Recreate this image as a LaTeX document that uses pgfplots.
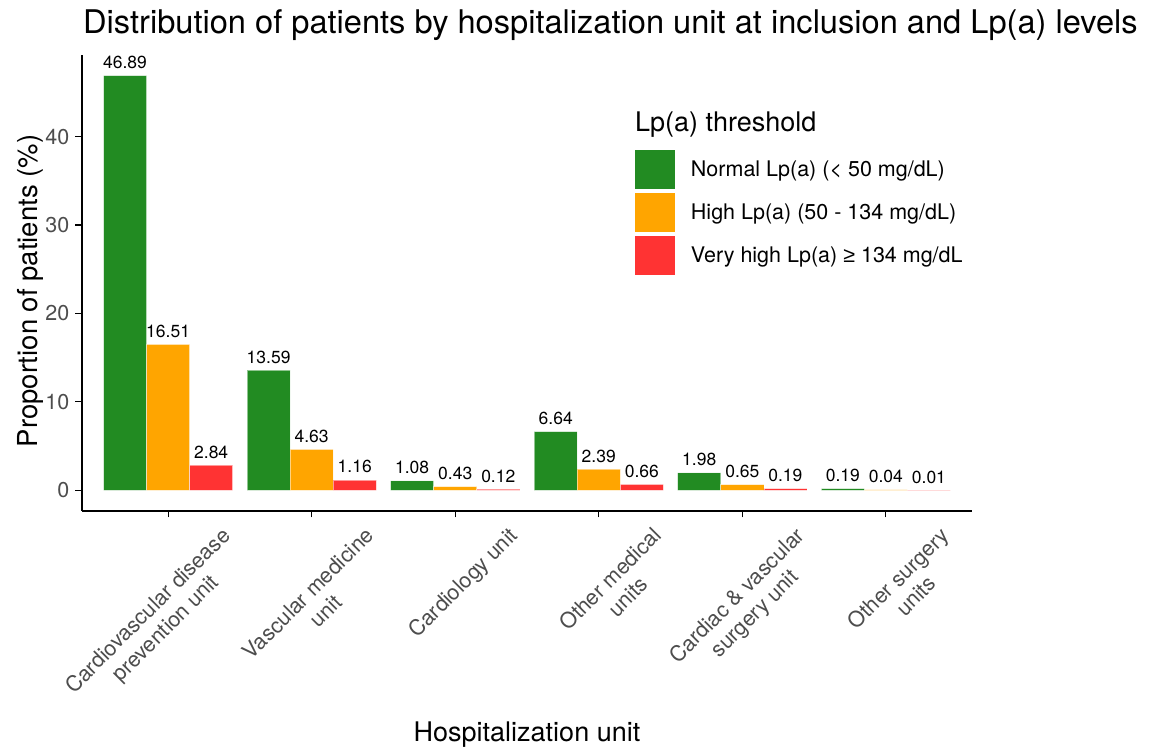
\documentclass[border=0pt]{standalone}
\usepackage{fontspec}
\setmainfont{TeX Gyre Heros}
\newfontfamily\symf{Liberation Sans}
\usepackage{graphicx}
\usepackage{pgfplots}
\pgfplotsset{compat=1.18}
\definecolor{cgreen}{HTML}{228B22}
\definecolor{corange}{HTML}{FFA500}
\definecolor{cred}{HTML}{FF3333}
\definecolor{tickgray}{HTML}{4D4D4D}
\newcommand{\rl}[2][0pt]{\hspace*{#1}\rotatebox{45}{\begin{tabular}{@{}c@{}}#2\end{tabular}}\hspace*{-#1}}
\begin{document}
\begin{tikzpicture}[x=1pt,y=1pt]
\useasboundingbox (0,0) rectangle (1149,751);
\begin{axis}[
  at={(82pt,240pt)}, anchor=south west,
  width=890pt, height=456pt, scale only axis,
  xmin=0.4, xmax=6.6, ymin=-2.34, ymax=49.23,
  axis x line=bottom, axis y line=left,
  axis line style={-, line width=1.3pt, black},
  tick align=outside, major tick length=6.5pt,
  tick style={line width=1.1pt, black},
  /pgf/number format/assume math mode=true,
  xtick={1,2,3,4,5,6},
  xticklabels={{\rl[-10pt]{Cardiovascular disease\\prevention unit}},
               {\rl[7pt]{Vascular medicine\\unit}},
               {\rl[9.5pt]{Cardiology unit}},
               {\rl[22pt]{Other medical\\units}},
               {\rl[5pt]{Cardiac \& vascular\\surgery unit}},
               {\rl[23pt]{Other surgery\\units}}},
  xticklabel style={font=\fontsize{21.5}{25}\selectfont, text=tickgray, anchor=north, inner sep=0pt, yshift=-7pt},
  ytick={0,10,20,30,40},
  yticklabel style={font=\fontsize{21.5}{25}\selectfont, text=tickgray, anchor=east, inner sep=0pt, xshift=-6pt},
  ybar, bar width=0.3,
  nodes near coords={\pgfmathprintnumber[fixed,fixed zerofill,precision=2]{\pgfplotspointmeta}},
  every node near coord/.append style={font=\fontsize{17.5}{20}\selectfont, text=black, inner sep=0pt, anchor=south, yshift=6.5pt},
  legend image code/.code={\path[#1, draw=none] (0pt,-19.5pt) rectangle (40pt,19.5pt);},
  legend cell align=left,
  legend style={at={(0.6213,0.7917)}, anchor=north west, draw=none, fill=none,
    inner sep=0pt, outer sep=0pt, row sep=4pt,
    font=\fontsize{21.5}{25}\selectfont,
    nodes={inner sep=0pt, outer sep=0pt},
    /tikz/every odd column/.append style={column sep=16pt}},
]
\addplot[fill=cgreen, draw=white, draw opacity=0.5, line width=0.6pt, bar shift=-0.3]
  coordinates {(1,46.89) (2,13.59) (3,1.08) (4,6.64) (5,1.98) (6,0.19)};
\addlegendentry{Normal Lp(a) (< 50 mg/dL)}
\addplot[fill=corange, draw=white, draw opacity=0.5, line width=0.6pt, bar shift=0]
  coordinates {(1,16.51) (2,4.63) (3,0.43) (4,2.39) (5,0.65) (6,0.04)};
\addlegendentry{High Lp(a) (50 - 134 mg/dL)}
\addplot[fill=cred, draw=white, draw opacity=0.5, line width=0.6pt, bar shift=0.3]
  coordinates {(1,2.84) (2,1.16) (3,0.12) (4,0.66) (5,0.19) (6,0.01)};
\addlegendentry{Very high Lp(a) {\symf ≥} 134 mg/dL}
\end{axis}
\node[anchor=base west, inner sep=0pt, font=\fontsize{32.6}{38}\selectfont] at (83,717.7)
  {Distribution of patients by hospitalization unit at inclusion and Lp(a) levels};
\node[anchor=base west, inner sep=0pt, font=\fontsize{27}{32}\selectfont] at (635,619)
  {Lp(a) threshold};
\node[anchor=base, rotate=90, inner sep=0pt, font=\fontsize{27.5}{32}\selectfont] at (37,460)
  {Proportion of patients (\%)};
\node[anchor=base, inner sep=0pt, font=\fontsize{27}{32}\selectfont] at (527,9)
  {Hospitalization unit};
\end{tikzpicture}
\end{document}
